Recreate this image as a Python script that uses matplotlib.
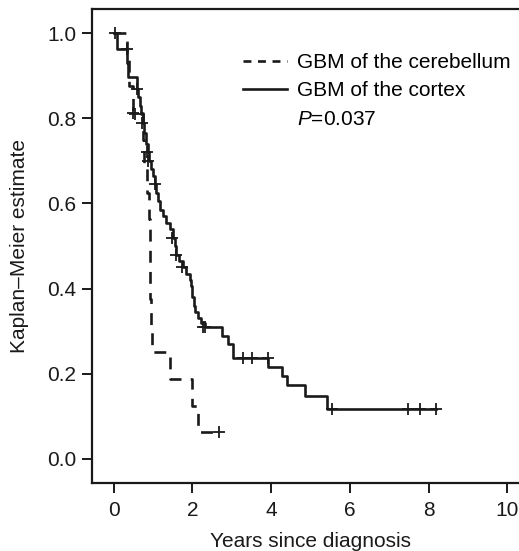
import matplotlib
matplotlib.use("Agg")
import matplotlib.pyplot as plt
from matplotlib.lines import Line2D

# Cortex (solid) Kaplan-Meier steps
cortex_t = [0.0, 0.08, 0.34, 0.35, 0.59, 0.62, 0.66, 0.70, 0.74, 0.78, 0.82, 0.86, 0.90,
            0.94, 0.99, 1.04, 1.08, 1.13, 1.18, 1.25, 1.33, 1.42, 1.50, 1.55, 1.58,
            1.65, 1.75, 1.83, 1.93, 1.97, 2.00, 2.03, 2.07, 2.14, 2.22, 2.32, 2.75,
            2.90, 3.03, 3.92, 4.28, 4.40, 4.86, 5.42, 8.19]
cortex_s = [1.0, 0.963, 0.93, 0.896, 0.87, 0.85, 0.83, 0.81, 0.79, 0.765, 0.74, 0.72, 0.70,
            0.68, 0.665, 0.645, 0.625, 0.605, 0.585, 0.57, 0.555, 0.54, 0.52, 0.50, 0.48,
            0.465, 0.45, 0.435, 0.42, 0.405, 0.38, 0.36, 0.345, 0.33, 0.318, 0.31, 0.288,
            0.27, 0.237, 0.215, 0.194, 0.173, 0.147, 0.118, 0.118]
cortex_cens_t = [0.02, 0.33, 0.55, 0.59, 0.72, 0.85, 0.88, 1.05, 1.48, 1.58, 1.74,
                 2.27, 2.32, 3.29, 3.51, 3.92, 5.55, 7.48, 7.78, 8.19]
cortex_cens_s = [1.0, 0.963, 0.81, 0.87, 0.79, 0.72, 0.70, 0.645, 0.52, 0.48, 0.45,
                 0.31, 0.31, 0.237, 0.237, 0.237, 0.118, 0.118, 0.118, 0.118]

# Cerebellum (dashed) Kaplan-Meier steps
cereb_t = [0.0, 0.34, 0.40, 0.48, 0.74, 0.78, 0.85, 0.90, 0.91, 0.92, 0.93, 0.94, 0.96,
           1.43, 1.99, 2.14, 2.68]
cereb_s = [1.0, 0.9375, 0.875, 0.8125, 0.75, 0.6875, 0.625, 0.5625, 0.5, 0.4375, 0.375,
           0.3125, 0.25, 0.1875, 0.125, 0.0625, 0.0625]
cereb_cens_t = [0.50, 2.68]
cereb_cens_s = [0.8125, 0.0625]

xticks = [0, 2, 4, 6, 8, 10]
yticks = [0.0, 0.2, 0.4, 0.6, 0.8, 1.0]

plt.rcParams['font.family'] = ['Liberation Sans', 'DejaVu Sans']
plt.rcParams['mathtext.fontset'] = 'custom'
plt.rcParams['mathtext.it'] = 'Liberation Sans:italic'
plt.rcParams['mathtext.rm'] = 'Liberation Sans'

fig = plt.figure(figsize=(5.19, 5.51), dpi=100)
ax = fig.add_axes([0.1767, 0.124, 0.843, 0.859])

col = '#1a1a1a'
fs = 15
ax.plot(cereb_t, cereb_s, drawstyle='steps-post', color=col, lw=1.9,
        linestyle=(0, (4.5, 3.5)))
ax.plot(cortex_t, cortex_s, drawstyle='steps-post', color=col, lw=1.9)
ax.plot(cortex_cens_t, cortex_cens_s, linestyle='none', marker='+', ms=8, mew=1.3, color=col)
ax.plot(cereb_cens_t, cereb_cens_s, linestyle='none', marker='+', ms=8, mew=1.3, color=col)

ax.set_xlim(-0.56, 10.56)
ax.set_ylim(-0.056, 1.056)
ax.set_xticks(xticks)
ax.set_xticklabels([str(v) for v in xticks])
ax.set_yticks(yticks)
ax.set_yticklabels([f"{v:.1f}" for v in yticks])
ax.tick_params(axis='x', direction='out', length=7, width=1.4, labelsize=fs, pad=6.5, colors=col)
ax.tick_params(axis='y', direction='out', length=7, width=1.4, labelsize=fs, pad=4, colors=col)
for s in ['left', 'bottom', 'top']:
    ax.spines[s].set_linewidth(1.6)
    ax.spines[s].set_color(col)
ax.spines['right'].set_visible(False)

ax.set_xlabel('Years since diagnosis', fontsize=fs, color=col, labelpad=8)
ax.set_ylabel('Kaplan\u2013Meier estimate', fontsize=fs, color=col, labelpad=13)

handles = [Line2D([], [], color=col, lw=1.9, linestyle=(0, (3.0, 2.5))),
           Line2D([], [], color=col, lw=1.9),
           Line2D([], [], color='none')]
labels = ['GBM of the cerebellum', 'GBM of the cortex', '$P$=0.037']
ax.legend(handles, labels, loc='upper left', bbox_to_anchor=(0.346, 0.908),
          frameon=False, fontsize=fs, handlelength=2.1, handletextpad=0.5,
          labelspacing=0.45, borderaxespad=0, borderpad=0)

fig.savefig('out.png', dpi=100)
